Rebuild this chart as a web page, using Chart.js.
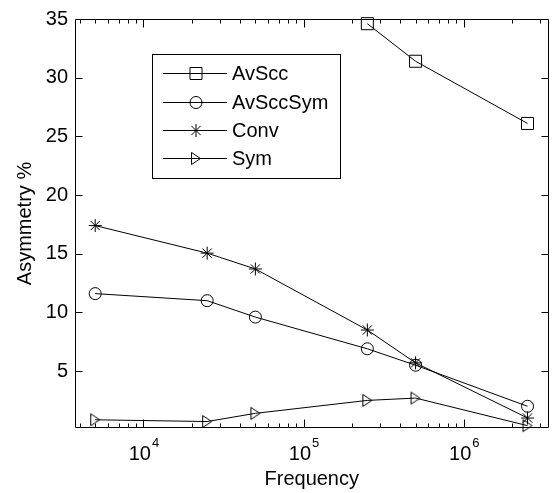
<!DOCTYPE html>
<html><head><meta charset="utf-8">
<script src="https://cdn.jsdelivr.net/npm/chart.js@4"></script>
<style>html,body{margin:0;padding:0;background:#fff}#wrap{width:558px;height:493px;position:relative}</style>
</head><body><div id="wrap"><canvas id="c" width="558" height="493"></canvas></div>
<script>
// ---- data ----
const frequencies = [5000, 25000, 50000, 250000, 500000, 2500000];
const avScc    = [null, null, null, 34.6, 31.4, 26.1];
const avSccSym = [11.6, 11.0, 9.6, 6.9, 5.5, 2.0];
const conv     = [17.4, 15.05, 13.7, 8.5, 5.7, 1.0];
const sym      = [0.85, 0.7, 1.4, 2.5, 2.7, 0.35];
const seriesNames = ['AvScc', 'AvSccSym', 'Conv', 'Sym'];
const yTickValues = [5, 10, 15, 20, 25, 30, 35];
const xMajorTicks = [1e4, 1e5, 1e6];
const xMin = 3740, xMax = 3.38e6, yMin = 0.15, yMax = 35;
const xTitle = 'Frequency', yTitle = 'Asymmetry %';

const FONT = "'Liberation Sans', Arial, Helvetica, sans-serif";
const FS = 20;

function pts(vals) {
  return frequencies.map((f, i) => ({x: f, y: vals[i]})).filter(p => p.y !== null);
}
function makeTri() {
  const c = document.createElement('canvas');
  c.width = 12; c.height = 15;
  const g = c.getContext('2d');
  g.strokeStyle = '#000'; g.lineWidth = 1;
  g.beginPath(); g.moveTo(1.5, 1.5); g.lineTo(10.5, 7.5); g.lineTo(1.5, 13.5); g.closePath(); g.stroke();
  return c;
}
const tri = makeTri();
const styles = [
  {pointStyle: 'rect', pointRadius: 8.5},
  {pointStyle: 'circle', pointRadius: 6},
  {pointStyle: 'star', pointRadius: 6.5},
  {pointStyle: tri, pointRadius: 7}
];
const allVals = [avScc, avSccSym, conv, sym];
const datasets = seriesNames.map((n, i) => Object.assign({
  label: n, data: pts(allVals[i]),
  borderColor: '#000', backgroundColor: 'rgba(0,0,0,0)', borderWidth: 1,
  pointBorderColor: '#000', pointBackgroundColor: 'rgba(0,0,0,0)', pointBorderWidth: 1,
  tension: 0, clip: false
}, styles[i]));

const matlabAxes = {
  id: 'matlabAxes',
  afterDraw(chart) {
    const {ctx, chartArea: a, scales: {x, y}} = chart;
    const L = Math.round(a.left) + 0.5, R = Math.round(a.right) - 0.5;
    const T = Math.round(a.top) + 0.5, B = Math.round(a.bottom) - 0.5;
    ctx.save();
    ctx.strokeStyle = '#000'; ctx.lineWidth = 1;
    ctx.beginPath();
    ctx.rect(L, T, R - L, B - T);
    // y ticks both sides
    yTickValues.forEach(v => {
      const py = Math.round(y.getPixelForValue(v)) + 0.5;
      ctx.moveTo(L, py); ctx.lineTo(L + 7, py);
      ctx.moveTo(R, py); ctx.lineTo(R - 7, py);
    });
    // x major + minor ticks top/bottom
    const e0 = Math.floor(Math.log10(xMin)), e1 = Math.ceil(Math.log10(xMax));
    for (let e = e0; e <= e1; e++) {
      for (let m = 1; m <= 9; m++) {
        const v = m * Math.pow(10, e);
        if (v <= xMin || v >= xMax) continue;
        const len = m === 1 ? 8 : 4;
        const px = Math.round(x.getPixelForValue(v)) + 0.5;
        ctx.moveTo(px, B); ctx.lineTo(px, B - len);
        ctx.moveTo(px, T); ctx.lineTo(px, T + len);
      }
    }
    ctx.stroke();
    // x tick labels 10^n
    ctx.fillStyle = '#000';
    ctx.textBaseline = 'alphabetic';
    xMajorTicks.forEach(v => {
      const px = x.getPixelForValue(v);
      const exp = String(Math.round(Math.log10(v)));
      ctx.font = FS + 'px ' + FONT;
      const w1 = ctx.measureText('10').width;
      ctx.font = '13px ' + FONT;
      const w2 = ctx.measureText(exp).width;
      const start = px - (w1 + w2) / 2;
      ctx.font = FS + 'px ' + FONT;
      ctx.textAlign = 'left';
      ctx.fillText('10', start, 460);
      ctx.font = '13px ' + FONT;
      ctx.fillText(exp, start + w1 + 1, 447);
    });
    // legend
    const lx = 152, ly = 54, lw = 188, lh = 124;
    ctx.fillStyle = '#fff';
    ctx.fillRect(lx + 0.5, ly + 0.5, lw, lh);
    ctx.strokeRect(lx + 0.5, ly + 0.5, lw, lh);
    const rows = [73, 102, 130, 158];
    chart.data.datasets.forEach((ds, i) => {
      const ry = rows[i] + 0.5;
      ctx.beginPath(); ctx.moveTo(163, ry); ctx.lineTo(227, ry); ctx.stroke();
      ctx.fillStyle = 'rgba(0,0,0,0)';
      Chart.helpers.drawPoint(ctx, {pointStyle: ds.pointStyle, radius: ds.pointRadius, rotation: 0, borderWidth: 1}, 196, ry);
      ctx.fillStyle = '#000';
      ctx.font = FS + 'px ' + FONT;
      ctx.textAlign = 'left'; ctx.textBaseline = 'middle';
      ctx.fillText(ds.label, 232, rows[i] + 1);
    });
    ctx.restore();
  }
};

new Chart(document.getElementById('c'), {
  type: 'line',
  data: {datasets},
  options: {
    responsive: false, animation: false, devicePixelRatio: 1,
    layout: {padding: {left: 0, right: 3.5, top: 15, bottom: 0}},
    plugins: {legend: {display: false}, tooltip: {enabled: false}},
    scales: {
      x: {
        type: 'logarithmic', min: xMin, max: xMax,
        afterBuildTicks: s => { s.ticks = xMajorTicks.map(v => ({value: v})); },
        afterFit: s => { s.height = 65; },
        grid: {display: false, drawTicks: false}, border: {display: false},
        ticks: {callback: () => '', autoSkip: false, maxRotation: 0},
        title: {display: true, text: xTitle, color: '#000', font: {family: FONT, size: FS}, padding: {top: 0, bottom: 2}}
      },
      y: {
        type: 'linear', min: yMin, max: yMax,
        afterBuildTicks: s => { s.ticks = yTickValues.map(v => ({value: v})); },
        afterFit: s => { s.width = 75; },
        grid: {display: false, drawTicks: false}, border: {display: false},
        ticks: {color: '#000', font: {family: FONT, size: FS}, padding: 7},
        title: {display: true, text: yTitle, color: '#000', font: {family: FONT, size: FS}, padding: {top: 13, bottom: 0}}
      }
    }
  },
  plugins: [matlabAxes]
});
</script></body></html>
